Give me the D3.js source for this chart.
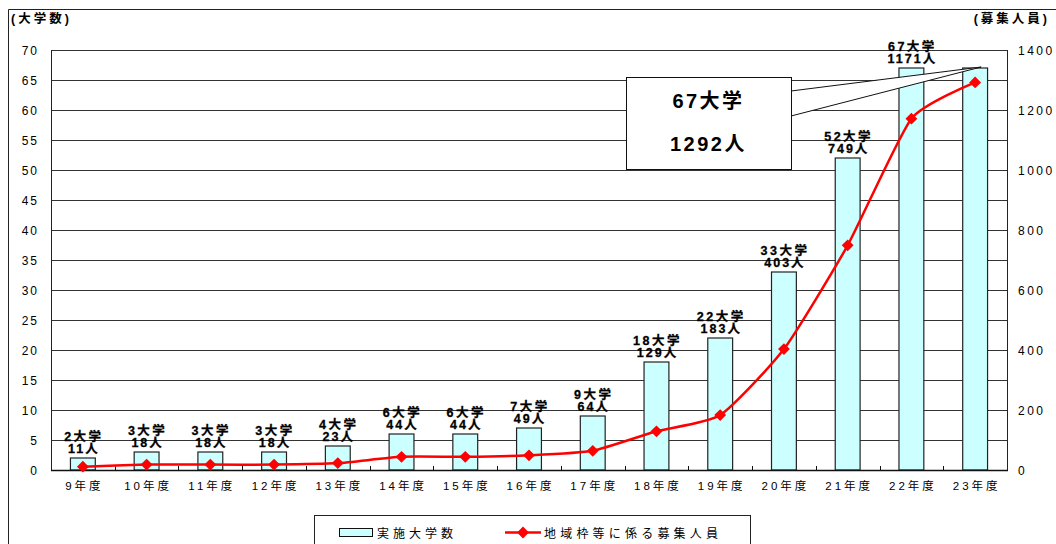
<!DOCTYPE html>
<html>
<head>
<meta charset="utf-8">
<script src="https://cdn.jsdelivr.net/npm/d3@7"></script>
<style>
  html, body { margin: 0; padding: 0; background: #fff; }
  svg { display: block; }
  text { font-family: "Liberation Sans", "Noto Sans CJK JP", sans-serif; fill: #000; }
</style>
</head>
<body>
<svg id="chart" width="1056" height="544"></svg>
<script>
// Fiscal years (平成) on the category axis
const years = ["9年度", "10年度", "11年度", "12年度", "13年度", "14年度", "15年度", "16年度",
               "17年度", "18年度", "19年度", "20年度", "21年度", "22年度", "23年度"];
// Number of universities running the program (bars, left axis)
const universities = [2, 3, 3, 3, 4, 6, 6, 7, 9, 18, 22, 33, 52, 67, 67];
// Regional-quota recruitment capacity (line, right axis)
const recruits = [11, 18, 18, 18, 23, 44, 44, 49, 64, 129, 183, 403, 749, 1171, 1292];
// Tick values for both value axes
const leftTicks = d3.range(0, 71, 5);
const rightTicks = d3.range(0, 1401, 200);

const svg = d3.select("#chart");
const plot = { left: 51, right: 1007, top: 50, bottom: 470 };

const x = d3.scaleBand().domain(years).range([plot.left, plot.right]).padding(0);
const yL = d3.scaleLinear().domain([0, 70]).range([plot.bottom, plot.top]);
const yR = d3.scaleLinear().domain([0, 1400]).range([plot.bottom, plot.top]);
const barW = x.bandwidth() * 0.39;
const cx = d => x(d) + x.bandwidth() / 2;

// outer frame
svg.append("path")
  .attr("d", "M8.5,544 V9.5 H1056")
  .attr("fill", "none").attr("stroke", "#222").attr("stroke-width", 1);

// horizontal gridlines
svg.append("g").selectAll("line").data(leftTicks).join("line")
  .attr("x1", plot.left).attr("x2", plot.right)
  .attr("y1", d => Math.round(yL(d)) + 0.5).attr("y2", d => Math.round(yL(d)) + 0.5)
  .attr("stroke", "#333").attr("stroke-width", 1);

// plot side borders
svg.append("line").attr("x1", plot.left + 0.5).attr("x2", plot.left + 0.5)
  .attr("y1", plot.top).attr("y2", plot.bottom).attr("stroke", "#222");
svg.append("line").attr("x1", plot.right + 0.5).attr("x2", plot.right + 0.5)
  .attr("y1", plot.top).attr("y2", plot.bottom).attr("stroke", "#222");

// bars
svg.append("g").selectAll("rect").data(years).join("rect")
  .attr("x", d => cx(d) - barW / 2)
  .attr("y", (d, i) => yL(universities[i]))
  .attr("width", barW)
  .attr("height", (d, i) => plot.bottom - yL(universities[i]))
  .attr("fill", "#CCFFFF").attr("stroke", "#222").attr("stroke-width", 1.2);

// category axis line and inward tick marks at category boundaries
svg.append("line").attr("x1", plot.left).attr("x2", plot.right + 1)
  .attr("y1", plot.bottom + 0.5).attr("y2", plot.bottom + 0.5)
  .attr("stroke", "#111").attr("stroke-width", 1.5);
svg.append("g").selectAll("line").data(years.slice(1)).join("line")
  .attr("x1", d => Math.round(x(d)) + 0.5).attr("x2", d => Math.round(x(d)) + 0.5)
  .attr("y1", plot.bottom).attr("y2", plot.bottom - 4)
  .attr("stroke", "#111");

// left value axis
const axL = svg.append("g").attr("transform", `translate(${plot.left},0)`)
  .call(d3.axisLeft(yL).tickValues(leftTicks).tickSize(0).tickPadding(12));
axL.select(".domain").remove();
axL.selectAll("text").style("font-size", "12px").style("letter-spacing", "2px")
  .attr("font-family", null).attr("dy", "0.36em");

// right value axis
const axR = svg.append("g").attr("transform", `translate(${plot.right},0)`)
  .call(d3.axisRight(yR).tickValues(rightTicks).tickFormat(d3.format("d"))
    .tickSize(0).tickPadding(11));
axR.select(".domain").remove();
axR.selectAll("text").style("font-size", "12px").style("letter-spacing", "2.5px")
  .attr("font-family", null).attr("dy", "0.36em");

// category labels
const axB = svg.append("g").attr("transform", `translate(0,${plot.bottom})`)
  .call(d3.axisBottom(x).tickSize(0).tickPadding(12));
axB.select(".domain").remove();
axB.selectAll("text").style("font-size", "11.5px").style("letter-spacing", "3px")
  .attr("font-family", null).attr("dx", "1.5px");

// axis titles
svg.append("text").attr("x", 11).attr("y", 23)
  .style("font-size", "12.5px").style("font-weight", "bold").style("letter-spacing", "3px")
  .text("(大学数)");
svg.append("text").attr("x", 1050).attr("y", 23).attr("text-anchor", "end")
  .style("font-size", "12.5px").style("font-weight", "bold").style("letter-spacing", "3px")
  .text("(募集人員)");

// recruitment line (lightly smoothed) with diamond markers
const line = d3.line()
  .x((d, i) => cx(years[i]))
  .y(d => yR(d))
  .curve(d3.curveCardinal.tension(0.45));
svg.append("path").datum(recruits)
  .attr("d", line).attr("fill", "none").attr("stroke", "#FF0000").attr("stroke-width", 2.5);
const diamond = d3.symbol(d3.symbolSquare, 70);
svg.append("g").selectAll("path").data(recruits).join("path")
  .attr("d", diamond)
  .attr("transform", (d, i) => `translate(${cx(years[i])},${yR(d)}) rotate(45)`)
  .attr("fill", "#FF0000");

// value labels above each bar (last year shown in callout)
const lab = svg.append("g").selectAll("g").data(years.slice(0, -1)).join("g")
  .attr("transform", (d, i) => `translate(${cx(d) + 1},${yL(universities[i]) - 5})`);
lab.append("text").attr("y", -12.5).attr("text-anchor", "middle")
  .style("font-size", "12.5px").style("font-weight", "bold").style("letter-spacing", "2.5px")
  .style("stroke", "#000").style("stroke-width", 0.3)
  .text((d, i) => `${universities[i]}大学`);
lab.append("text").attr("y", 0).attr("text-anchor", "middle")
  .style("font-size", "12.5px").style("font-weight", "bold").style("letter-spacing", "2px")
  .style("stroke", "#000").style("stroke-width", 0.3)
  .text((d, i) => `${recruits[i]}人`);

// callout for the latest year
const last = years.length - 1;
const box = { x: 626, y: 77, w: 165, h: 92 };
const tip = [cx(years[last]) + 6, yL(universities[last]) - 1];
svg.append("path")
  .attr("d", `M${box.x + box.w},${box.y + 14} L${tip[0]},${tip[1]} L${box.x + box.w},${box.y + 39}`)
  .attr("fill", "#fff").attr("stroke", "#111").attr("stroke-width", 1);
svg.append("rect").attr("x", box.x + 0.5).attr("y", box.y + 0.5)
  .attr("width", box.w).attr("height", box.h)
  .attr("fill", "#fff").attr("stroke", "#111").attr("stroke-width", 1);
svg.append("text").attr("x", box.x + box.w / 2).attr("y", 108).attr("text-anchor", "middle")
  .style("font-size", "20px").style("font-weight", "bold").style("letter-spacing", "2.5px")
  .text(`${universities[last]}大学`);
svg.append("text").attr("x", box.x + box.w / 2).attr("y", 151).attr("text-anchor", "middle")
  .style("font-size", "20px").style("font-weight", "bold").style("letter-spacing", "2.5px")
  .text(`${recruits[last]}人`);

// legend
const leg = svg.append("g");
leg.append("rect").attr("x", 314.5).attr("y", 515.5).attr("width", 436).attr("height", 60)
  .attr("fill", "#fff").attr("stroke", "#222");
leg.append("rect").attr("x", 339.5).attr("y", 528.5).attr("width", 33).attr("height", 8)
  .attr("fill", "#CCFFFF").attr("stroke", "#111");
leg.append("text").attr("x", 377).attr("y", 537.5)
  .style("font-size", "12px").style("letter-spacing", "4px").text("実施大学数");
leg.append("line").attr("x1", 505).attr("x2", 541).attr("y1", 532.5).attr("y2", 532.5)
  .attr("stroke", "#FF0000").attr("stroke-width", 2.5);
leg.append("path").attr("d", diamond)
  .attr("transform", "translate(523,532.5) rotate(45)").attr("fill", "#FF0000");
leg.append("text").attr("x", 544).attr("y", 537.5)
  .style("font-size", "12px").style("letter-spacing", "4.2px").text("地域枠等に係る募集人員");
</script>
</body>
</html>
